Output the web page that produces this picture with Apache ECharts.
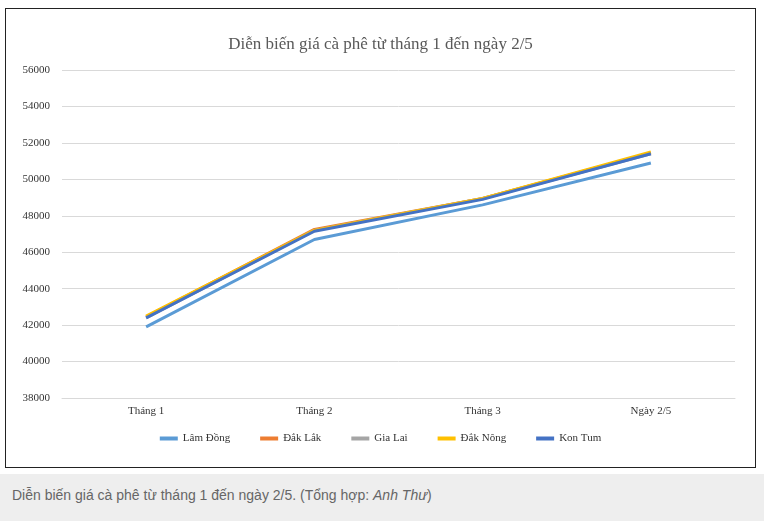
<!DOCTYPE html>
<html><head><meta charset="utf-8">
<script src="https://cdn.jsdelivr.net/npm/echarts@6/dist/echarts.min.js"></script>
<style>
body{margin:0;background:#fff;font-family:"Liberation Serif",serif}
#box{position:absolute;left:5px;top:8px;width:751px;height:460px;border:1px solid #222;box-sizing:border-box}
#chart{width:100%;height:100%}
#cap{position:absolute;left:0;top:474px;width:764px;height:47px;background:#eee;color:#666;font-family:Arial,"Liberation Sans",sans-serif;font-size:14px;line-height:42px;padding-left:12px;box-sizing:border-box}
</style></head><body>
<div id="box"><div id="chart"></div></div>
<div id="cap">Diễn biến giá cà phê từ tháng 1 đến ngày 2/5. (Tổng hợp: <i>Anh Thư</i>)</div>
<script>
// dữ liệu
const categories = ['Tháng 1', 'Tháng 2', 'Tháng 3', 'Ngày 2/5'];
const lamDong = [41900, 46700, 48600, 50900];
const dakLak = [42450, 47250, 48950, 51450];
const giaLai = [42400, 47200, 48950, 51400];
const dakNong = [42500, 47200, 48950, 51500];
const konTum = [42400, 47150, 48900, 51400];

const mk = (name, data, color) => ({name, type: 'line', data, symbol: 'none', lineStyle: {width: 3, color}, itemStyle: {color}});

echarts.init(document.getElementById('chart')).setOption({
  title: {text: 'Diễn biến giá cà phê từ tháng 1 đến ngày 2/5', left: 'center', top: 22,
    textStyle: {fontFamily: 'Liberation Serif', fontWeight: 'normal', fontSize: 17, color: '#595959'}},
  grid: {left: 56, right: 20, top: 61, bottom: 69},
  legend: {bottom: 18, itemWidth: 18, itemHeight: 4, itemGap: 30, icon: 'rect',
    textStyle: {fontFamily: 'Liberation Serif', fontSize: 11, color: '#333'}},
  xAxis: {type: 'category', data: categories, axisTick: {show: false},
    axisLine: {lineStyle: {color: '#d9d9d9'}},
    axisLabel: {fontFamily: 'Liberation Serif', fontSize: 11, color: '#333', margin: 8}},
  yAxis: {type: 'value', min: 38000, max: 56000, interval: 2000,
    axisLabel: {fontFamily: 'Liberation Serif', fontSize: 11, color: '#333', margin: 12, formatter: v => String(v)},
    splitLine: {lineStyle: {color: '#d9d9d9'}}},
  series: [
    mk('Lâm Đồng', lamDong, '#5b9bd5'),
    mk('Đắk Lắk', dakLak, '#ed7d31'),
    mk('Gia Lai', giaLai, '#a5a5a5'),
    mk('Đắk Nông', dakNong, '#ffc000'),
    mk('Kon Tum', konTum, '#4472c4')
  ]
});
</script>
</body></html>
